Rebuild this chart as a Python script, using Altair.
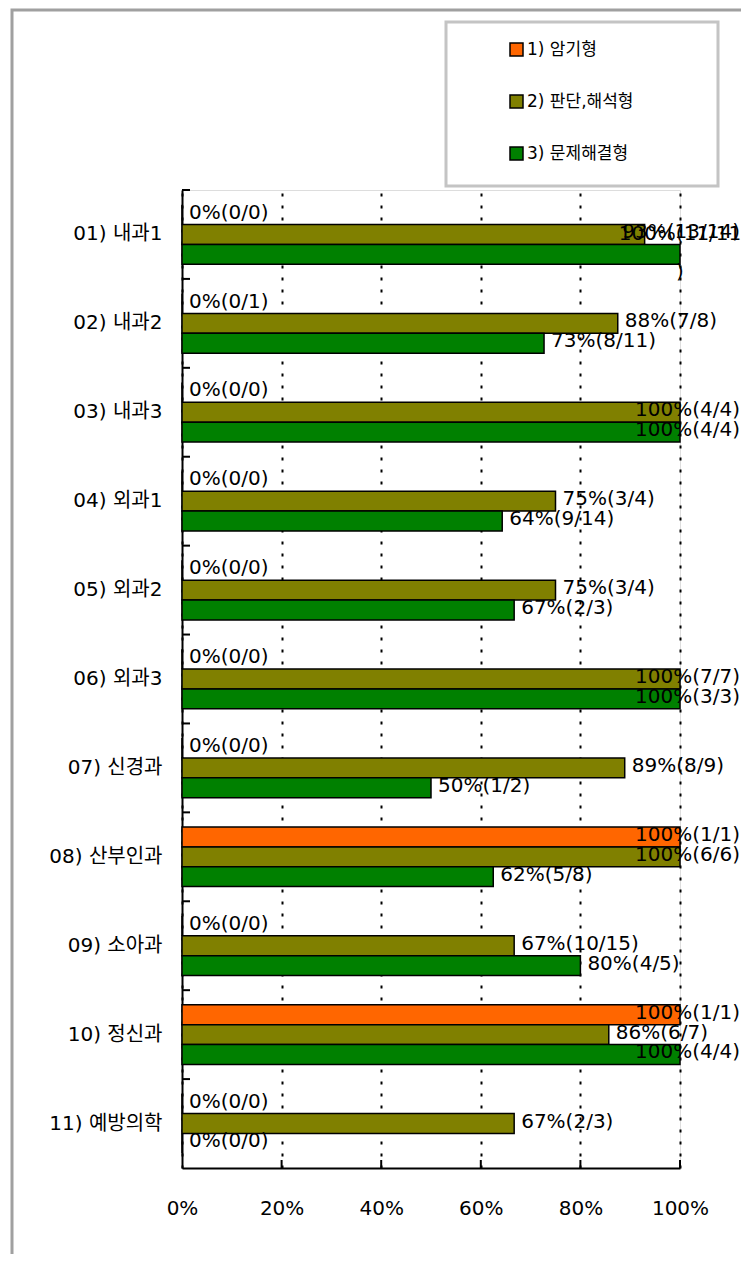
import altair as alt
import pandas as pd

categories = ["01) 내과1", "02) 내과2", "03) 내과3", "04) 외과1", "05) 외과2", "06) 외과3",
              "07) 신경과", "08) 산부인과", "09) 소아과", "10) 정신과", "11) 예방의학"]
series = ["1) 암기형", "2) 판단,해석형", "3) 문제해결형"]
colors = ["#FF6600", "#808000", "#008000"]

values_1 = [0, 0, 0, 0, 0, 0, 0, 100, 0, 100, 0]
values_2 = [92.9, 87.5, 100, 75, 75, 100, 88.9, 100, 66.7, 85.7, 66.7]
values_3 = [100, 72.7, 100, 64.3, 66.7, 100, 50, 62.5, 80, 100, 0]

labels_1 = ["0%(0/0)", "0%(0/1)", "0%(0/0)", "0%(0/0)", "0%(0/0)", "0%(0/0)", "0%(0/0)",
            "100%(1/1)", "0%(0/0)", "100%(1/1)", "0%(0/0)"]
labels_2 = ["93%(13/14)", "88%(7/8)", "100%(4/4)", "75%(3/4)", "75%(3/4)", "100%(7/7)",
            "89%(8/9)", "100%(6/6)", "67%(10/15)", "86%(6/7)", "67%(2/3)"]
# the first label wraps onto a second line in the original
labels_3 = ["100%(11/11\n)", "73%(8/11)", "100%(4/4)", "64%(9/14)", "67%(2/3)", "100%(3/3)",
            "50%(1/2)", "62%(5/8)", "80%(4/5)", "100%(4/4)", "0%(0/0)"]

x_ticks = [0, 20, 40, 60, 80, 100]

rows = []
for s, vals, labs in zip(series, [values_1, values_2, values_3], [labels_1, labels_2, labels_3]):
    for c, v, l in zip(categories, vals, labs):
        rows.append({"cat": c, "series": s, "value": v, "label": l,
                     "wrap": "\n" in l})
df = pd.DataFrame(rows)

W, H = 498, 978
FONT = "DejaVu Sans, Noto Sans CJK KR, sans-serif"
FONT_KR = "DejaVu Sans, Noto Sans CJK KR, sans-serif"

y_enc = alt.Y("cat:N", sort=categories,
              scale=alt.Scale(paddingInner=0.33, paddingOuter=0.165),
              axis=alt.Axis(title=None, ticks=False, domainColor="black", domainWidth=2,
                            labelFont=FONT_KR, labelFontSize=20, labelColor="black",
                            labelPadding=20))
yoff = alt.YOffset("series:N", sort=series, scale=alt.Scale(paddingInner=0, paddingOuter=0))
x_enc = alt.X("value:Q", scale=alt.Scale(domain=[0, 100], nice=False),
              axis=alt.Axis(title=None, values=x_ticks, ticks=False, domainColor="black",
                            domainWidth=2, labelExpr="datum.value + '%'", labelFlush=False,
                            labelFont=FONT, labelFontSize=20, labelColor="black",
                            labelPadding=30, grid=True, gridColor="black",
                            gridDash=[3, 9], gridWidth=2))

base = alt.Chart(df)

bars = base.mark_bar(stroke="black", strokeWidth=1.5).encode(
    x=x_enc,
    y=y_enc,
    yOffset=yoff,
    color=alt.Color("series:N", sort=series,
                    scale=alt.Scale(domain=series, range=colors),
                    legend=alt.Legend(title=None, orient="none", legendX=326, legendY=-149,
                                      symbolType="square", symbolSize=169,
                                      symbolStrokeColor="black", symbolStrokeWidth=1.5,
                                      labelFont=FONT_KR, labelFontSize=17, labelColor="black",
                                      labelOffset=2, rowPadding=33, padding=0)),
)

text_left = base.transform_filter("datum.value < 90").mark_text(
    align="left", baseline="middle", dx=7, dy=-2, font=FONT, fontSize=20, color="black"
).encode(
    x=alt.X("value:Q"), y=alt.Y("cat:N", sort=categories), yOffset=yoff, text="label:N"
)

text_right = base.transform_filter("datum.value >= 90 && !datum.wrap").mark_text(
    align="right", baseline="middle", dx=60, dy=-2, font=FONT, fontSize=20, color="black"
).encode(
    x=alt.datum(100), y=alt.Y("cat:N", sort=categories), yOffset=yoff, text="label:N"
)

text_wrap = base.transform_filter("datum.wrap").mark_text(
    align="center", baseline="middle", dy=-20, font=FONT, fontSize=20, color="black",
    lineBreak="\n", lineHeight=38
).encode(
    x=alt.datum(100), y=alt.Y("cat:N", sort=categories), yOffset=yoff, text="label:N"
)

main = alt.layer(bars, text_left, text_right, text_wrap)

# band-boundary ticks on the category axis (boundaries at i * step)
bnd_df = pd.DataFrame({"b": list(range(len(categories)))})
y_ticks = alt.Chart(bnd_df).mark_rule(color="black", strokeWidth=2).encode(
    y=alt.Y("b:Q", scale=alt.Scale(domain=[0, len(categories)], reverse=True, nice=False),
            axis=None),
    x=alt.value(0), x2=alt.value(8),
)

xt_df = pd.DataFrame({"t": x_ticks[1:]})
x_tick_marks = alt.Chart(xt_df).mark_rule(color="black", strokeWidth=2).encode(
    x=alt.X("t:Q"), y=alt.value(H), y2=alt.value(H - 8),
)

one = pd.DataFrame({"a": [0]})
frame = alt.Chart(one).mark_rect(fill="transparent", stroke="#a0a0a0", strokeWidth=3).encode(
    x=alt.value(-170), x2=alt.value(600), y=alt.value(-180), y2=alt.value(1100)
)
legend_box = alt.Chart(one).mark_rect(fill="white", stroke="#c4c4c4", strokeWidth=3).encode(
    x=alt.value(264), x2=alt.value(536), y=alt.value(-168), y2=alt.value(-4)
)

chart = alt.layer(frame, legend_box, main, x_tick_marks, y_ticks).resolve_scale(
    y="independent"
).properties(
    width=W, height=H,
    autosize=alt.AutoSizeParams(type="none"),
    padding={"left": 174, "top": 182, "right": 61, "bottom": 86},
).configure_view(stroke=None).configure(background="white")

chart.save("out.html", embed_options={"renderer": "svg", "actions": False})
